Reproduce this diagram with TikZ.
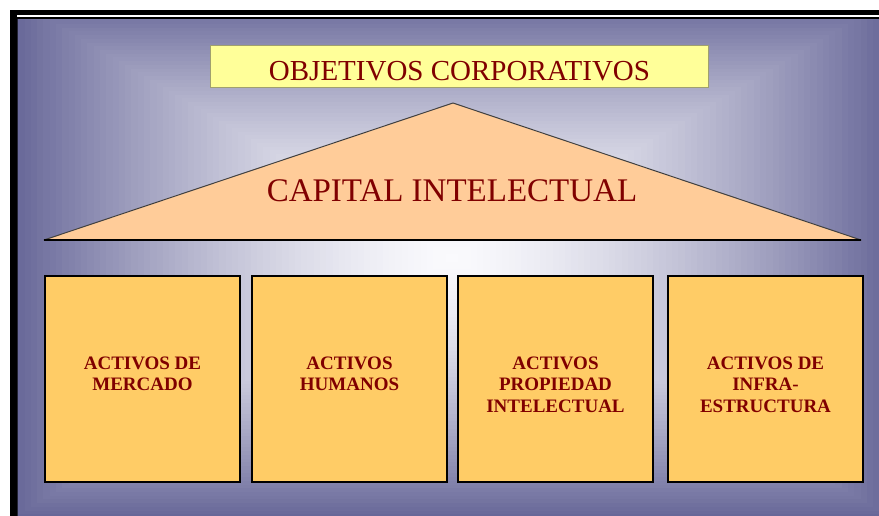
\documentclass[tikz,border=0pt]{standalone}
\usepackage{fontspec}
\setmainfont{Liberation Serif}
\definecolor{bgdark}{RGB}{103,103,152}
\definecolor{bglight}{RGB}{250,250,253}
\definecolor{txtred}{RGB}{128,0,0}
\definecolor{objfill}{RGB}{255,255,153}
\definecolor{objline}{RGB}{160,160,110}
\definecolor{trifill}{RGB}{255,204,153}
\definecolor{boxfill}{RGB}{255,204,102}
\begin{document}
\begin{tikzpicture}[x=1pt,y=-1pt,
  assetbox/.style={draw=black,line width=1.4pt,fill=boxfill,minimum width=195pt,minimum height=206pt,inner sep=0pt},
  assettext/.style={text=txtred,font=\bfseries\fontsize{19}{21.7}\selectfont,align=center,anchor=north,inner sep=0pt}]
\useasboundingbox (0,0) rectangle (879,516);
\fill[white] (0,0) rectangle (879,516);
\fill[black] (10,10) rectangle (879,516);
\fill[white] (16.5,15.3) rectangle (879,17.4);
\begin{scope}
  \clip (17.5,19.5) rectangle (879,516);
  \fill[bgdark] (17.5,19.5) rectangle (879,516);
  \foreach \i in {0,...,69}{
    \pgfmathsetmacro\s{1-\i/70}
    \pgfmathsetmacro\p{100*pow(\s,1.5)}
    \fill[bgdark!\p!bglight] ({452-440*\s},{258-260*\s}) rectangle ({452+440*\s},{258+260*\s});
  }
\end{scope}
% objectives banner
\node[draw=objline,line width=0.8pt,fill=objfill,minimum width=498pt,minimum height=41.5pt,inner sep=0pt] (obj) at (459,66.5) {};
\node[text=txtred,font=\fontsize{29}{30}\selectfont,anchor=base,inner sep=0pt] (objtxt) at (459.5,81) {OBJETIVOS CORPORATIVOS};
% roof
\coordinate (apex) at (453,103);
\coordinate (bl) at (44,240);
\coordinate (br) at (861,240);
\filldraw[fill=trifill,draw=black!75,line width=1pt,line join=round] (bl) -- (apex) -- (br) -- cycle;
\draw[black,line width=1.6pt] (bl) -- (br);
\node[text=txtred,font=\fontsize{33}{34}\selectfont,anchor=base,inner sep=0pt] (captxt) at (452,201.5) {CAPITAL INTELECTUAL};
% pillars
\node[assetbox] (b1) at (142.5,379) {};
\node[assetbox] (b2) at (349.5,379) {};
\node[assetbox] (b3) at (555.5,379) {};
\node[assetbox] (b4) at (765.5,379) {};
\node[assettext] (t1) at (142.5,356.5) {ACTIVOS DE\\MERCADO};
\node[assettext] (t2) at (349.5,356.5) {ACTIVOS\\HUMANOS};
\node[assettext] (t3) at (555.5,356.5) {ACTIVOS\\PROPIEDAD\\INTELECTUAL};
\node[assettext] (t4) at (765.5,356.5) {ACTIVOS DE\\INFRA-\\ESTRUCTURA};
\end{tikzpicture}
\end{document}
